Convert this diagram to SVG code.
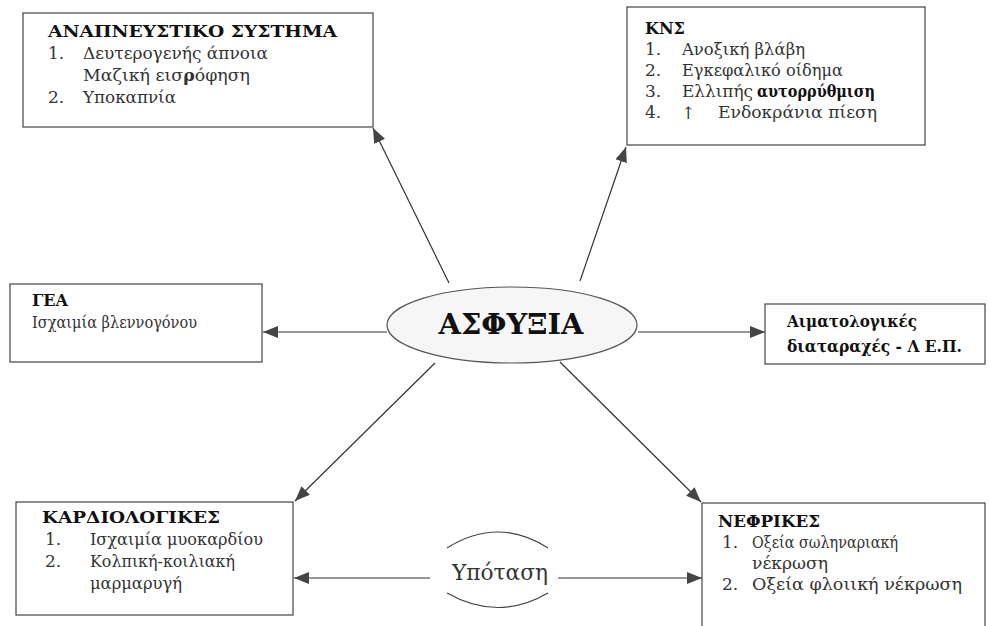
<svg xmlns="http://www.w3.org/2000/svg" width="991" height="626" viewBox="0 0 991 626">
<style>
.box{fill:#fff;stroke:#444;stroke-width:1.2}
.t{font-family:"DejaVu Serif","Liberation Serif",serif;font-size:17px;fill:#333}
.b{font-family:"DejaVu Serif","Liberation Serif",serif;font-size:16px;font-weight:bold;fill:#111}
.big{font-family:"DejaVu Serif","Liberation Serif",serif;font-size:28px;font-weight:bold;fill:#111}
.hyp{font-family:"DejaVu Serif","Liberation Serif",serif;font-size:23px;fill:#333}
.c{stroke:#333;stroke-width:1.2;fill:none;marker-end:url(#ah)}
</style>
<defs>
<marker id="ah" markerUnits="userSpaceOnUse" markerWidth="16" markerHeight="14" refX="15" refY="7" orient="auto">
<path d="M0,1 L15,7 L0,13 Z" fill="#444"/>
</marker>
</defs>
<rect width="991" height="626" fill="#fff"/>
<g id="connectors">
<line class="c" x1="449" y1="283" x2="373" y2="128"/>
<line class="c" x1="580" y1="281" x2="626" y2="147"/>
<line class="c" x1="387" y1="332" x2="263" y2="332"/>
<line class="c" x1="638" y1="332" x2="765" y2="332"/>
<line class="c" x1="435" y1="363" x2="295" y2="501"/>
<line class="c" x1="560" y1="362" x2="701" y2="502"/>
<line class="c" x1="430" y1="578" x2="294" y2="578"/>
<line class="c" x1="558" y1="578" x2="702" y2="578"/>
</g>
<g id="respiratory">
<rect class="box" x="23" y="13" width="350" height="114"/>
<text class="b" x="48" y="37" textLength="289" lengthAdjust="spacingAndGlyphs">ΑΝΑΠΝΕΥΣΤΙΚΟ ΣΥΣΤΗΜΑ</text>
<text class="t" x="48" y="59">1.</text>
<text class="t" x="83" y="59" textLength="185" lengthAdjust="spacingAndGlyphs">Δευτερογενής άπνοια</text>
<text class="t" x="83" y="81" textLength="167" lengthAdjust="spacingAndGlyphs">Μαζική εισ<tspan font-weight="bold">ρ</tspan>όφηση</text>
<text class="t" x="48" y="103">2.</text>
<text class="t" x="83" y="103" textLength="93" lengthAdjust="spacingAndGlyphs">Υποκαπνία</text>
</g>
<g id="kns">
<rect class="box" x="627" y="7" width="298" height="138"/>
<text class="b" x="645" y="34">ΚΝΣ</text>
<text class="t" x="645" y="55">1.</text>
<text class="t" x="682" y="55" textLength="123" lengthAdjust="spacingAndGlyphs">Ανοξική βλάβη</text>
<text class="t" x="645" y="76">2.</text>
<text class="t" x="682" y="76" textLength="161" lengthAdjust="spacingAndGlyphs">Εγκεφαλικό οίδημα</text>
<text class="t" x="645" y="97">3.</text>
<text class="t" x="682" y="97" textLength="71" lengthAdjust="spacingAndGlyphs">Ελλιπής</text>
<text class="b" x="757" y="97" font-size="17" textLength="118" lengthAdjust="spacingAndGlyphs">αυτορρύθμιση</text>
<text class="t" x="645" y="118">4.</text>
<text class="t" x="681" y="119" font-size="20">↑</text>
<text class="t" x="718" y="118" textLength="159" lengthAdjust="spacingAndGlyphs">Ενδοκράνια πίεση</text>
</g>
<g id="gea">
<rect class="box" x="10" y="284" width="252" height="78"/>
<text class="b" x="32" y="306">ΓΕΑ</text>
<text class="t" x="32" y="328" textLength="165" lengthAdjust="spacingAndGlyphs">Ισχαιμία βλεννογόνου</text>
</g>
<g id="asphyxia">
<ellipse cx="512" cy="325" rx="125" ry="38" fill="#f6f6f6" stroke="#555" stroke-width="1.2"/>
<text class="big" x="511" y="334" text-anchor="middle" textLength="145" lengthAdjust="spacingAndGlyphs">ΑΣΦΥΞΙΑ</text>
</g>
<g id="hematologic">
<rect class="box" x="765" y="304" width="220" height="60"/>
<text class="b" x="787" y="327" textLength="130" lengthAdjust="spacingAndGlyphs">Αιματολογικές</text>
<text class="b" x="787" y="352" textLength="175" lengthAdjust="spacingAndGlyphs">διαταραχές - Λ Ε.Π.</text>
</g>
<g id="cardio">
<rect class="box" x="16" y="502" width="277" height="113"/>
<text class="b" x="42" y="523" textLength="178" lengthAdjust="spacingAndGlyphs">ΚΑΡΔΙΟΛΟΓΙΚΕΣ</text>
<text class="t" x="45" y="545">1.</text>
<text class="t" x="90" y="545" textLength="173" lengthAdjust="spacingAndGlyphs">Ισχαιμία μυοκαρδίου</text>
<text class="t" x="45" y="567">2.</text>
<text class="t" x="90" y="567" textLength="145" lengthAdjust="spacingAndGlyphs">Κολπική-κοιλιακή</text>
<text class="t" x="90" y="589" textLength="92" lengthAdjust="spacingAndGlyphs">μαρμαρυγή</text>
</g>
<g id="renal">
<rect class="box" x="702" y="503" width="283" height="130"/>
<text class="b" x="718" y="527" textLength="102" lengthAdjust="spacingAndGlyphs">ΝΕΦΡΙΚΕΣ</text>
<text class="t" x="722" y="548">1.</text>
<text class="t" x="752" y="548" textLength="146" lengthAdjust="spacingAndGlyphs">Οξεία σωληναριακή</text>
<text class="t" x="752" y="569" textLength="76" lengthAdjust="spacingAndGlyphs">νέκρωση</text>
<text class="t" x="722" y="590">2.</text>
<text class="t" x="752" y="590" textLength="210" lengthAdjust="spacingAndGlyphs">Οξεία φλοιική νέκρωση</text>
</g>
<g id="hypotension">
<path d="M447,548 Q498,516 548,548" fill="none" stroke="#444" stroke-width="1.2"/>
<path d="M447,593 Q498,622 548,593" fill="none" stroke="#444" stroke-width="1.2"/>
<text class="hyp" x="500" y="580" text-anchor="middle" textLength="96" lengthAdjust="spacingAndGlyphs">Υπόταση</text>
</g>
</svg>
